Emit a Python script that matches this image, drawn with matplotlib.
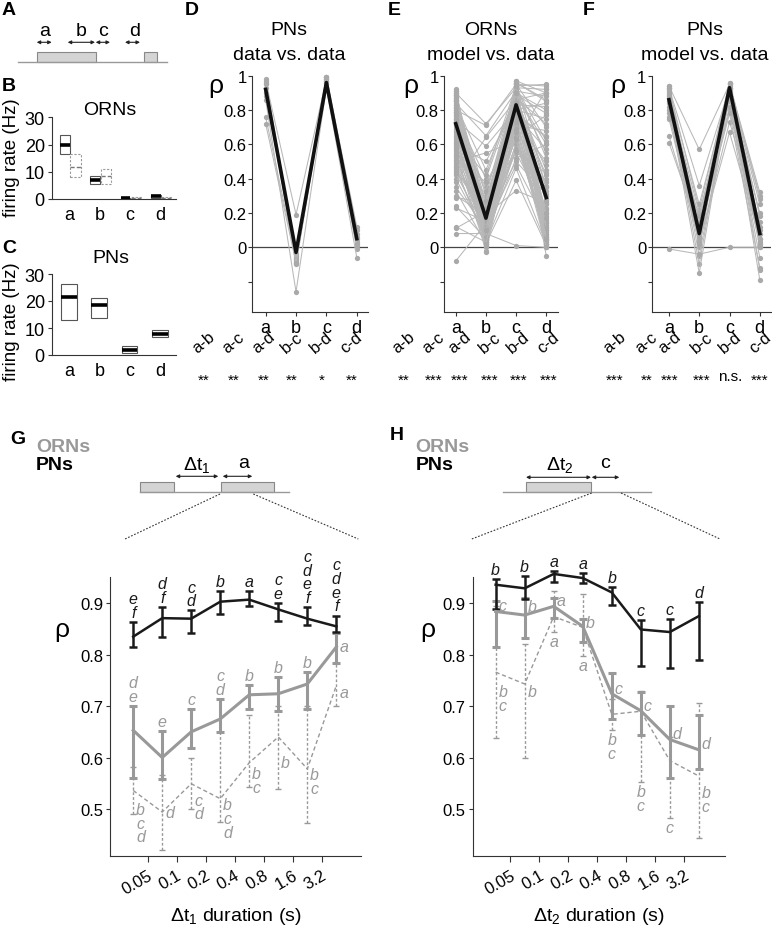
import matplotlib
matplotlib.use('Agg')
import matplotlib.pyplot as plt
import numpy as np
from matplotlib.patches import Rectangle

plt.rcParams['font.family'] = ['Liberation Sans', 'DejaVu Sans']
plt.rcParams['mathtext.fontset'] = 'custom'
plt.rcParams['mathtext.rm'] = 'Liberation Sans'
plt.rcParams['mathtext.it'] = 'Liberation Sans:italic'
plt.rcParams['mathtext.sf'] = 'Liberation Sans'

# ---------------- data ----------------
categories = ['a', 'b', 'c', 'd']

# B: ORN firing rates (Hz): data (solid boxes) and model (dashed boxes)
orn_data_low = [16.5, 5.5, 0.0, 0.5]
orn_data_med = [20.0, 7.0, 0.2, 1.0]
orn_data_high = [23.5, 8.5, 0.5, 1.4]
orn_model_low = [8.0, 5.5, 0.0, 0.0]
orn_model_med = [11.8, 8.5, 0.3, 0.5]
orn_model_high = [16.5, 11.0, 0.6, 0.8]

# C: PN firing rates (Hz)
pn_low = [13.1, 13.6, 0.6, 6.5]
pn_med = [21.4, 18.6, 2.0, 7.8]
pn_high = [26.3, 21.0, 3.4, 9.1]

# D: PNs data vs data (rho at a, b, c, d)
D_rows = [
    [0.98, -0.05, 0.99, 0.12],
    [0.97, 0.19, 0.98, 0.10],
    [0.96, -0.08, 0.99, 0.08],
    [0.95, -0.09, 0.97, 0.05],
    [0.93, -0.10, 0.96, 0.03],
    [0.90, -0.06, 0.98, 0.01],
    [0.88, -0.04, 0.95, -0.01],
    [0.86, -0.26, 0.93, -0.06],
    [0.76, -0.07, 0.97, 0.06],
    [0.72, -0.09, 0.99, 0.02],
]
D_mean = [0.92, -0.03, 0.96, 0.05]

# E: ORNs model vs data
E_rows = [
    [0.92, 0.05, 0.95, 0.94], [0.91, 0.10, 0.97, 0.90], [0.90, 0.72, 0.93, 0.92],
    [0.89, 0.20, 0.96, 0.85], [0.88, 0.02, 0.92, 0.05], [0.87, 0.15, 0.90, 0.80],
    [0.86, 0.30, 0.94, 0.10], [0.85, 0.08, 0.89, 0.60], [0.84, 0.65, 0.91, 0.88],
    [0.83, 0.12, 0.88, 0.20], [0.82, 0.00, 0.86, 0.45], [0.81, 0.25, 0.93, 0.02],
    [0.80, 0.71, 0.95, 0.70], [0.79, 0.05, 0.85, 0.30], [0.78, 0.18, 0.84, 0.15],
    [0.77, 0.40, 0.90, 0.55], [0.76, 0.03, 0.82, 0.08], [0.75, 0.22, 0.87, 0.35],
    [0.74, 0.59, 0.80, 0.75], [0.72, 0.10, 0.78, 0.00], [0.70, 0.14, 0.92, 0.25],
    [0.68, 0.35, 0.76, 0.65], [0.66, 0.01, 0.74, 0.12], [0.64, 0.28, 0.88, 0.40],
    [0.62, 0.06, 0.70, 0.03], [0.60, 0.50, 0.83, 0.82], [0.58, 0.16, 0.68, 0.18],
    [0.56, -0.02, 0.72, 0.50], [0.54, 0.24, 0.65, 0.06], [0.52, 0.09, 0.79, 0.28],
    [0.50, 0.55, 0.62, 0.92], [0.48, 0.13, 0.60, 0.10], [0.46, 0.04, 0.58, 0.38],
    [0.44, 0.20, 0.81, 0.04], [0.42, 0.32, 0.55, 0.22], [0.40, 0.07, 0.52, 0.60],
    [0.38, 0.64, 0.86, 0.90], [0.35, 0.11, 0.48, 0.14], [0.33, 0.02, 0.39, 0.01],
    [0.30, 0.19, 0.33, 0.26], [0.29, 0.26, 0.75, 0.48], [0.24, 0.05, 0.66, 0.09],
    [0.23, 0.15, 0.57, 0.33], [0.12, 0.03, 0.46, 0.02], [0.11, 0.21, 0.71, 0.68],
    [0.08, 0.08, 0.01, 0.00], [-0.08, 0.14, 0.89, 0.78], [0.90, -0.03, 0.97, -0.05],
    [0.86, 0.06, 0.94, 0.95], [0.80, 0.12, 0.96, 0.86],
    [0.91, 0.18, 0.93, 0.62], [0.89, 0.04, 0.95, 0.35], [0.87, 0.26, 0.91, 0.07],
    [0.85, 0.13, 0.94, 0.52], [0.83, 0.45, 0.89, 0.16], [0.81, 0.07, 0.87, 0.72],
    [0.79, 0.17, 0.92, 0.04], [0.77, 0.23, 0.83, 0.42], [0.75, 0.01, 0.90, 0.27],
    [0.73, 0.11, 0.80, 0.84], [0.71, 0.33, 0.86, 0.13], [0.69, 0.04, 0.77, 0.57],
    [0.67, 0.19, 0.73, 0.02], [0.65, 0.09, 0.69, 0.36], [0.63, 0.42, 0.94, 0.11],
    [0.61, 0.15, 0.64, 0.77], [0.59, 0.03, 0.61, 0.23], [0.57, 0.27, 0.85, 0.06],
    [0.55, 0.12, 0.56, 0.43], [0.53, 0.06, 0.90, 0.17], [0.51, 0.38, 0.67, 0.00],
    [0.49, 0.17, 0.50, 0.31], [0.47, 0.02, 0.78, 0.64], [0.45, 0.23, 0.63, 0.05],
    [0.43, 0.10, 0.84, 0.20],
]
E_mean = [0.72, 0.17, 0.83, 0.29]

# F: PNs model vs data
F_rows = [
    [0.94, 0.05, 0.96, 0.10], [0.94, 0.57, 0.95, 0.32], [0.93, 0.36, 0.93, 0.30],
    [0.93, 0.22, 0.96, 0.28], [0.92, 0.10, 0.90, 0.20], [0.91, 0.00, 0.94, 0.18],
    [0.90, 0.25, 0.92, 0.05], [0.89, -0.05, 0.88, 0.00], [0.88, 0.15, 0.95, 0.12],
    [0.87, 0.20, 0.85, -0.06], [0.85, -0.10, 0.91, 0.08], [0.84, 0.08, 0.80, 0.02],
    [0.82, -0.15, 0.90, -0.13], [0.80, 0.12, 0.87, -0.19], [0.78, 0.02, 0.73, 0.15],
    [0.76, 0.18, 0.93, 0.25], [0.75, 0.03, 0.67, 0.05], [0.65, 0.06, 0.82, 0.03],
    [0.61, 0.10, 0.78, -0.12], [-0.01, -0.04, 0.00, 0.00],
]
F_mean = [0.86, 0.08, 0.93, 0.08]

pairs = ['a-b', 'a-c', 'a-d', 'b-c', 'b-d', 'c-d']
D_sig = ['**', '**', '**', '**', '*', '**']
E_sig = ['**', '***', '***', '***', '***', '***']
F_sig = ['***', '**', '***', '***', 'n.s.', '***']

# G / H
dt_ticks = ['0.05', '0.1', '0.2', '0.4', '0.8', '1.6', '3.2']

g_pn = [0.835, 0.871, 0.870, 0.903, 0.907, 0.888, 0.870, 0.855]
g_pn_lo = [0.815, 0.835, 0.842, 0.879, 0.895, 0.866, 0.857, 0.845]
g_pn_hi = [0.863, 0.892, 0.886, 0.924, 0.923, 0.900, 0.892, 0.876]
g_orn = [0.653, 0.600, 0.650, 0.675, 0.722, 0.724, 0.743, 0.815]
g_orn_lo = [0.561, 0.559, 0.618, 0.650, 0.695, 0.691, 0.695, 0.784]
g_orn_hi = [0.700, 0.651, 0.695, 0.714, 0.741, 0.756, 0.766, 0.842]
g_mod = [0.536, 0.494, 0.549, 0.520, 0.590, 0.640, 0.578, 0.740]
g_mod_lo = [0.490, 0.420, 0.499, 0.475, 0.543, 0.538, 0.472, 0.700]
g_mod_hi = [0.582, 0.567, 0.600, 0.650, 0.682, 0.700, 0.700, 0.784]
g_pn_let = ['e\nf', 'd\nf', 'c\nd', 'b', 'a', 'c\ne', 'c\nd\ne\nf', 'c\nd\ne\nf']
g_orn_let = ['d\ne', 'e', 'c', 'c\nd', 'b', 'b', 'b', 'a']
g_mod_let = ['b\nc\nd', 'd', 'c\nd', 'b\nc\nd', 'b\nc', 'b', 'b\nc', 'a']

h_pn = [0.936, 0.929, 0.957, 0.949, 0.921, 0.849, 0.844, 0.875]
h_pn_lo = [0.889, 0.908, 0.942, 0.939, 0.897, 0.777, 0.774, 0.790]
h_pn_hi = [0.947, 0.952, 0.963, 0.959, 0.931, 0.868, 0.870, 0.903]
h_orn = [0.884, 0.877, 0.894, 0.855, 0.724, 0.691, 0.635, 0.615]
h_orn_lo = [0.815, 0.832, 0.871, 0.824, 0.675, 0.643, 0.560, 0.578]
h_orn_hi = [0.905, 0.910, 0.910, 0.870, 0.765, 0.728, 0.700, 0.682]
h_mod = [0.766, 0.743, 0.874, 0.853, 0.684, 0.690, 0.594, 0.564]
h_mod_lo = [0.638, 0.600, 0.845, 0.797, 0.654, 0.552, 0.483, 0.444]
h_mod_hi = [0.894, 0.821, 0.923, 0.918, 0.714, 0.730, 0.640, 0.706]
h_pn_let = ['b', 'b', 'a', 'a', 'b', 'c', 'c', 'd']
h_orn_let = ['c', 'b', 'a', 'b', 'c', 'c', 'd', 'd']
h_mod_let = ['b\nc', 'b', 'a', 'a', 'b\nc', 'b\nc', 'c', 'b\nc']

# letter placement (layout): mode and top anchor for 'right'
g_pn_place = [('above', None)] * 8
g_orn_place = [('above', None)] * 7 + [('right', 0.831)]
g_mod_place = [('right', v) for v in [0.514, 0.507, 0.532, 0.523, 0.583, 0.604, 0.582, 0.742]]
h_pn_place = [('above', None)] * 8
h_orn_place = [('right', v) for v in [0.910, 0.909, 0.919, 0.878, 0.749, 0.715, 0.661, 0.642]]
h_mod_place = [('right', 0.743), ('right', 0.743), ('below', None), ('below', None),
               ('below', None), ('below', None), ('below', None), ('right', 0.546)]

# ---------------- figure ----------------
W, H = 772, 929
fig = plt.figure(figsize=(W / 100, H / 100), dpi=100)

GREY = '#999999'
DARK = '#1a1a1a'


def add_ax(l, t, r, b):
    return fig.add_axes([l / W, 1 - b / H, (r - l) / W, (b - t) / H])


def style_ax(ax, fs=12):
    for s in ['top', 'right']:
        ax.spines[s].set_visible(False)
    for s in ['left', 'bottom']:
        ax.spines[s].set_color('#333333')
        ax.spines[s].set_linewidth(0.8)
    ax.tick_params(colors='#333333', labelcolor='black', labelsize=fs,
                   width=0.8, length=3, pad=2)
    ax.patch.set_alpha(0)


# overlay for schematics and free text (pixel coords)
ov = fig.add_axes([0, 0, 1, 1], zorder=-1)
ov.set_xlim(0, W)
ov.set_ylim(H, 0)
ov.axis('off')


def arrow(x0, x1, y):
    ov.annotate('', xy=(x1, y), xytext=(x0, y),
                arrowprops=dict(arrowstyle='<|-|>', mutation_scale=5, lw=0.8,
                                color='#222222', shrinkA=0, shrinkB=0))


def label(x, y, s, **kw):
    ov.text(x, y, s, ha='left', va='center', fontsize=14, fontweight='bold', **kw)


# ---- A schematic ----
label(2, 10, 'A')
ov.plot([18, 167], [62.7, 62.7], color='#999999', lw=1)
ov.add_patch(Rectangle((36.7, 52.7), 59, 10, fc='#d4d4d4', ec='#888888', lw=0.8))
ov.add_patch(Rectangle((144, 52.7), 13.3, 10, fc='#d4d4d4', ec='#888888', lw=0.8))
for (x0, x1, lx, s) in [(36.7, 51.7, 44.3, 'a'), (67.7, 95, 81, 'b'),
                        (95.7, 110, 102.7, 'c'), (125, 140, 134.3, 'd')]:
    arrow(x0, x1, 43.3)
    ov.text(lx, 31, s, ha='center', va='center', fontsize=14)

# ---- B ----
label(2, 86, 'B')
ov.text(110, 110, 'ORNs', ha='center', va='center', fontsize=14)
ov.text(12, 158, 'firing rate (Hz)', ha='center', va='center', rotation=90, fontsize=13.5)
axB = add_ax(51.7, 118.3, 176, 200)
style_ax(axB, 13)
for i in range(4):
    axB.add_patch(Rectangle((i - 0.30, orn_data_low[i]), 0.32,
                            orn_data_high[i] - orn_data_low[i],
                            fc='white', ec='#555555', lw=0.8))
    axB.plot([i - 0.30, i + 0.02], [orn_data_med[i]] * 2, color='black', lw=2.6,
             solid_capstyle='butt', clip_on=False)
    axB.add_patch(Rectangle((i + 0.05, orn_model_low[i]), 0.33,
                            orn_model_high[i] - orn_model_low[i],
                            fc='white', ec='#999999', lw=0.8, ls=(0, (2, 1.5))))
    axB.plot([i + 0.05, i + 0.38], [orn_model_med[i]] * 2, color='#777777', lw=1.0,
             ls=(0, (3, 1.5)), clip_on=False)
axB.set_xlim(-0.57, 3.53)
axB.set_ylim(0, 30)
axB.set_yticks([0, 10, 20, 30])
axB.set_xticks(range(4))
axB.set_xticklabels(categories)
axB.tick_params(axis='x', length=0, pad=5)

# ---- C ----
label(2, 248, 'C')
ov.text(111, 258, 'PNs', ha='center', va='center', fontsize=14)
ov.text(12, 322, 'firing rate (Hz)', ha='center', va='center', rotation=90, fontsize=13.5)
axC = add_ax(51.7, 275, 176, 356)
style_ax(axC, 13)
for i in range(4):
    axC.add_patch(Rectangle((i - 0.26, pn_low[i]), 0.52, pn_high[i] - pn_low[i],
                            fc='white', ec='#555555', lw=0.8))
    axC.plot([i - 0.26, i + 0.26], [pn_med[i]] * 2, color='black', lw=2.6,
             solid_capstyle='butt')
axC.set_xlim(-0.57, 3.53)
axC.set_ylim(0, 30)
axC.set_yticks([0, 10, 20, 30])
axC.set_xticks(range(4))
axC.set_xticklabels(categories)
axC.tick_params(axis='x', length=0, pad=5)


# ---- D, E, F ----
def corr_panel(l, r, xlim, rows, mean, letter, lx, t1, t2, tx, rhox, pair_x, sig):
    ax = add_ax(l, 76.7, r, 313.3)
    style_ax(ax, 12)
    ax.set_xlim(*xlim)
    ax.set_ylim(-0.379, 1.0)
    ax.axhline(0, color='#444444', lw=0.9, zorder=1)
    for row in rows:
        ax.plot(range(4), row, color='#b8b8b8', lw=0.75, marker='o', ms=3.8,
                mfc='#a9a9a9', mec='none', clip_on=False, zorder=2)
    ax.plot(range(4), mean, color='#111111', lw=2.6, clip_on=False, zorder=5)
    ax.set_yticks([-0.2, 0, 0.2, 0.4, 0.6, 0.8, 1])
    ax.set_yticklabels(['', '0', '0.2', '0.4', '0.6', '0.8', '1'])
    ax.set_xticks(range(4))
    ax.set_xticklabels(categories, fontsize=13)
    ax.tick_params(axis='y', pad=1)
    label(lx, 10, letter)
    ov.text(tx, 30, t1, ha='center', va='center', fontsize=14)
    ov.text(tx, 55, t2, ha='center', va='center', fontsize=14)
    ov.text(rhox, 86, 'ρ', ha='center', va='center', fontsize=19)
    for px, p, s in zip(pair_x, pairs, sig):
        ov.text(px, 343, p, ha='center', va='center', rotation=40, fontsize=12,
                rotation_mode='anchor')
        ov.text(px, 381 if s != 'n.s.' else 377, s, ha='center', va='center', fontsize=11)
    return ax


corr_panel(252.3, 367.7, (-0.44, 3.36), D_rows, D_mean, 'D', 185,
           'PNs', 'data vs. data', 289, 215.8,
           [203.3, 233.3, 263.3, 291.7, 321.7, 351.7], D_sig)
corr_panel(444.3, 557.7, (-0.38, 3.38), E_rows, E_mean, 'E', 388,
           'ORNs', 'model vs. data', 491, 410.8,
           [403.3, 433.3, 460, 490, 518.3, 548.3], E_sig)
corr_panel(651.7, 771, (-0.57, 3.37), F_rows, F_mean, 'F', 582.7,
           'PNs', 'model vs. data', 705, 617.5,
           [615, 646.7, 670, 701.7, 730, 760], F_sig)


# ---- G, H ----
def draw_series(ax, y, lo, hi, color, lw, dashed, letters, places):
    y = np.asarray(y)
    lo = np.asarray(lo)
    hi = np.asarray(hi)
    x = np.arange(len(y))
    ls = (0, (3, 2)) if dashed else '-'
    eb = ax.errorbar(x, y, yerr=[y - lo, hi - y], color=color, lw=lw,
                     elinewidth=lw, capsize=3 if not dashed else 2,
                     capthick=lw, ls=ls, clip_on=False)
    if dashed:
        eb[2][0].set_linestyle((0, (2, 1.5)))
    for i, (s, (mode, anc)) in enumerate(zip(letters, places)):
        kw = dict(fontsize=11.5, style='italic', color=color, linespacing=0.9,
                  textcoords='offset points', annotation_clip=False)
        if mode == 'above':
            ax.annotate(s, xy=(i, hi[i]), xytext=(0, 1.5), ha='center', va='bottom', **kw)
        elif mode == 'below':
            ax.annotate(s, xy=(i, lo[i]), xytext=(0, -1.5), ha='center', va='top', **kw)
        else:
            ax.annotate(s, xy=(i + 0.1, anc), xytext=(0, 0), ha='left', va='top', **kw)


def time_panel(l, r, xlim, series, xlabel, rhox):
    ax = add_ax(l, 578, r, 857.3)
    style_ax(ax, 12)
    ax.set_xlim(*xlim)
    ax.set_ylim(0.408, 0.951)
    for (y, lo, hi, color, lw, dashed, let, pl) in series:
        draw_series(ax, y, lo, hi, color, lw, dashed, let, pl)
    ax.set_yticks([0.5, 0.6, 0.7, 0.8, 0.9])
    ax.set_xticks(np.arange(len(dt_ticks)) + 0.5)
    ax.set_xticklabels(dt_ticks, rotation=30, ha='right', rotation_mode='anchor')
    ax.tick_params(axis='x', length=4, pad=4)
    ax.set_xlabel(xlabel, fontsize=14, labelpad=6)
    ov.text(rhox, 630, 'ρ', ha='center', va='center', fontsize=19)
    return ax


time_panel(110, 361, (-0.8, 7.85), [
    (g_mod, g_mod_lo, g_mod_hi, GREY, 1.0, True, g_mod_let, g_mod_place),
    (g_orn, g_orn_lo, g_orn_hi, GREY, 2.2, False, g_orn_let, g_orn_place),
    (g_pn, g_pn_lo, g_pn_hi, DARK, 1.8, False, g_pn_let, g_pn_place),
], r'Δt$_\mathrm{1}$ duration (s)', 61.7)

time_panel(472.7, 725, (-0.79, 7.9), [
    (h_mod, h_mod_lo, h_mod_hi, GREY, 1.0, True, h_mod_let, h_mod_place),
    (h_orn, h_orn_lo, h_orn_hi, GREY, 2.2, False, h_orn_let, h_orn_place),
    (h_pn, h_pn_lo, h_pn_hi, DARK, 1.8, False, h_pn_let, h_pn_place),
], r'Δt$_\mathrm{2}$ duration (s)', 427.3)

# G schematic
label(10, 440, 'G')
ov.text(36, 447, 'ORNs', ha='left', va='center', fontsize=14, fontweight='bold', color=GREY)
ov.text(36, 465, 'PNs', ha='left', va='center', fontsize=14, fontweight='bold', color='black')
ov.plot([140, 289.3], [492.7, 492.7], color='#999999', lw=1)
ov.add_patch(Rectangle((140, 483.3), 34, 9.4, fc='#d4d4d4', ec='#888888', lw=0.8))
ov.add_patch(Rectangle((221, 483.3), 53, 9.4, fc='#d4d4d4', ec='#888888', lw=0.8))
arrow(175.7, 218.3, 477.3)
arrow(222.7, 252.3, 477.3)
ov.text(196.7, 465, r'Δt$_\mathrm{1}$', ha='center', va='center', fontsize=14)
ov.text(243.3, 464, 'a', ha='center', va='center', fontsize=14)
ov.plot([220, 125], [495, 540], color='#333333', lw=0.8, ls=(0, (1.5, 1.5)))
ov.plot([253.3, 358.3], [495, 540], color='#333333', lw=0.8, ls=(0, (1.5, 1.5)))

# H schematic
label(390, 436, 'H')
ov.text(415.7, 447, 'ORNs', ha='left', va='center', fontsize=14, fontweight='bold', color=GREY)
ov.text(415.7, 465, 'PNs', ha='left', va='center', fontsize=14, fontweight='bold', color='black')
ov.plot([503.3, 651], [492.7, 492.7], color='#999999', lw=1)
ov.add_patch(Rectangle((526, 483.3), 65, 9.4, fc='#d4d4d4', ec='#888888', lw=0.8))
arrow(526, 591, 478.3)
arrow(591.7, 619.3, 478.3)
ov.text(560, 465, r'Δt$_\mathrm{2}$', ha='center', va='center', fontsize=14)
ov.text(605, 464, 'c', ha='center', va='center', fontsize=14)
ov.plot([591.7, 471.7], [494, 540], color='#333333', lw=0.8, ls=(0, (1.5, 1.5)))
ov.plot([621, 720], [494, 540], color='#333333', lw=0.8, ls=(0, (1.5, 1.5)))

fig.savefig('out.png', dpi=100)
